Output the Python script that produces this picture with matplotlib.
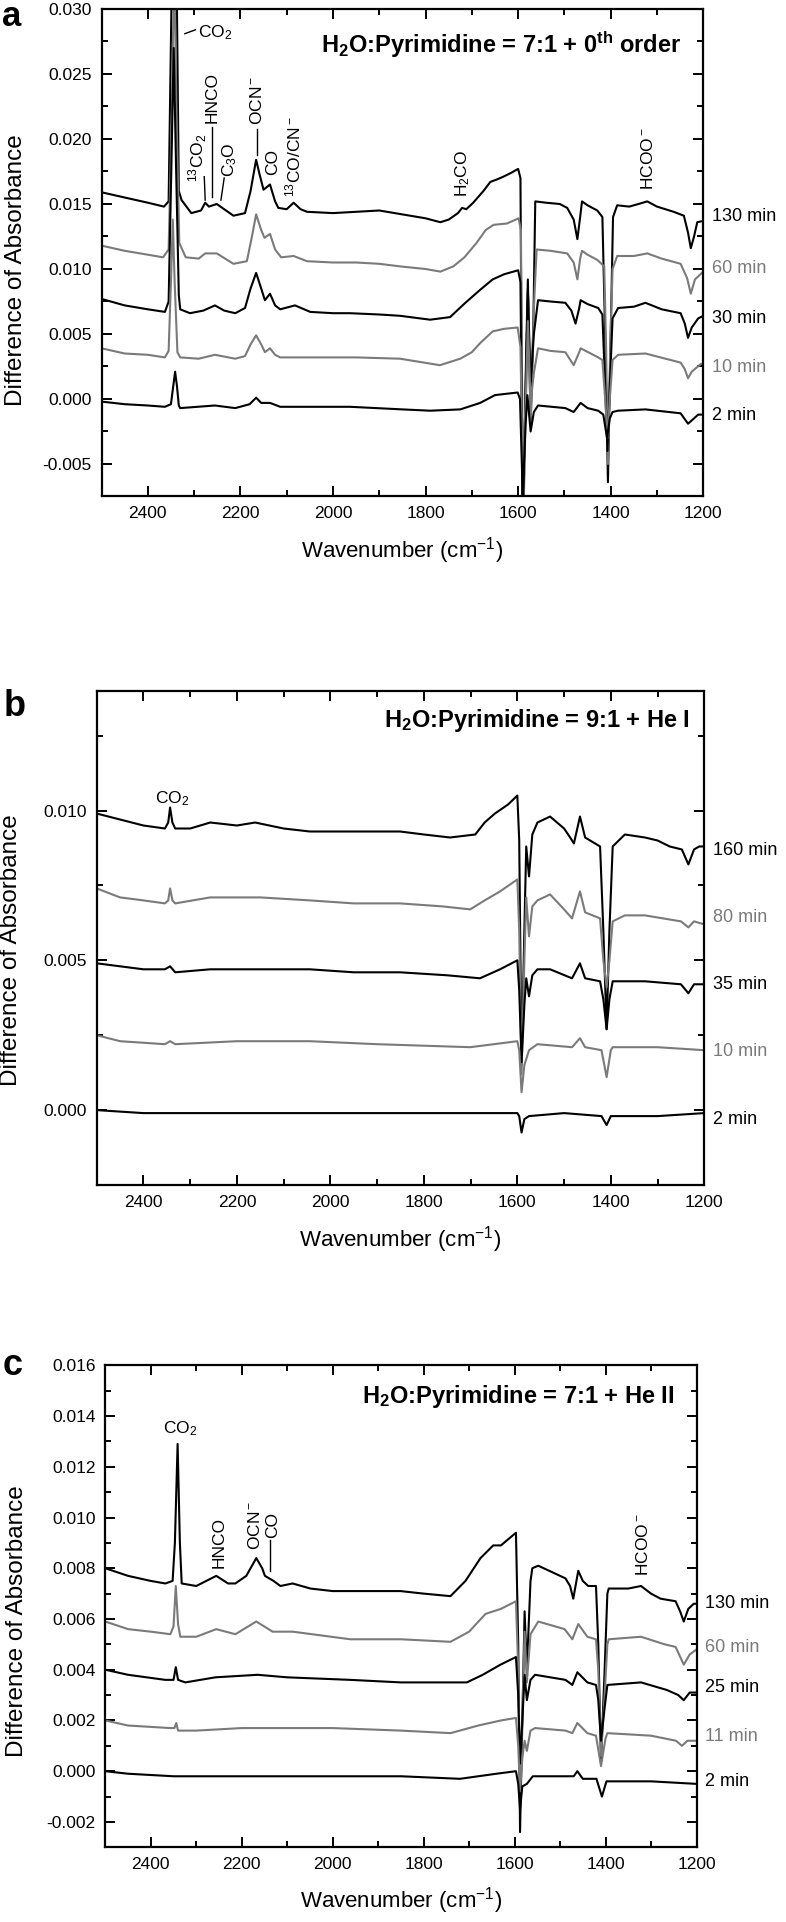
import matplotlib
matplotlib.use('Agg')
import matplotlib.pyplot as plt
from matplotlib.ticker import MultipleLocator, FormatStrFormatter

# ---- panel a : H2O:Pyrimidine = 7:1 + 0th order ----
a_labels = ['130 min', '60 min', '30 min', '10 min', '2 min']
a_label_y = [0.0140, 0.0100, 0.0062, 0.0024, -0.0013]
a_130 = [(2500, 0.0159), (2450, 0.0155), (2400, 0.0151), (2365, 0.0148), (2355, 0.0152), (2349, 0.030),
         (2343, 0.045), (2337, 0.030), (2333, 0.0160), (2327, 0.0153), (2306, 0.0143), (2285, 0.0145),
         (2276, 0.0151), (2268, 0.0148), (2251, 0.0150), (2235, 0.0146), (2215, 0.0141), (2190, 0.0143),
         (2178, 0.0160), (2166, 0.0184), (2158, 0.0172), (2150, 0.0161), (2136, 0.0165), (2125, 0.0152),
         (2118, 0.0147), (2100, 0.0146), (2085, 0.0151), (2070, 0.0146), (2056, 0.0144), (2000, 0.0143),
         (1950, 0.0144), (1900, 0.0145), (1850, 0.0142), (1800, 0.0139), (1768, 0.0136), (1750, 0.0138),
         (1730, 0.0143), (1721, 0.0147), (1712, 0.0146), (1697, 0.0151), (1675, 0.0160), (1660, 0.0167),
         (1645, 0.0169), (1632, 0.0171), (1615, 0.0174), (1600, 0.0177), (1595, 0.0170), (1590, -0.012),
         (1583, 0.003), (1579, 0.0092), (1573, -0.002), (1567, 0.006), (1563, 0.0152), (1540, 0.0151),
         (1510, 0.0150), (1494, 0.0147), (1480, 0.0138), (1472, 0.0123), (1466, 0.0140), (1462, 0.0152),
         (1450, 0.0149), (1429, 0.0145), (1418, 0.0140), (1412, 0.005), (1406, -0.0064), (1400, 0.005),
         (1395, 0.0140), (1386, 0.0149), (1360, 0.0148), (1340, 0.0150), (1321, 0.0152), (1300, 0.0148),
         (1264, 0.0144), (1242, 0.0141), (1233, 0.0128), (1227, 0.0116), (1220, 0.0125), (1213, 0.0136),
         (1200, 0.0137)]
a_60 = [(2500, 0.0118), (2450, 0.0114), (2400, 0.0111), (2367, 0.0109), (2355, 0.0115), (2348, 0.022),
        (2343, 0.034), (2338, 0.022), (2332, 0.0120), (2318, 0.0109), (2290, 0.0108), (2276, 0.0112),
        (2251, 0.0112), (2215, 0.0104), (2186, 0.0106), (2175, 0.0125), (2166, 0.0142), (2155, 0.0130),
        (2148, 0.0124), (2136, 0.0127), (2125, 0.0115), (2112, 0.0109), (2085, 0.0110), (2056, 0.0106),
        (2000, 0.0105), (1950, 0.0105), (1900, 0.0104), (1855, 0.0102), (1800, 0.0100), (1768, 0.0098),
        (1740, 0.0102), (1716, 0.0109), (1690, 0.0120), (1670, 0.0130), (1653, 0.0134), (1624, 0.0135),
        (1599, 0.0139), (1594, 0.0130), (1589, -0.010), (1582, 0.002), (1578, 0.0078), (1573, -0.002),
        (1566, 0.007), (1560, 0.0115), (1530, 0.0114), (1494, 0.0112), (1480, 0.0105), (1472, 0.0092),
        (1466, 0.0108), (1462, 0.0114), (1450, 0.0111), (1429, 0.0107), (1414, 0.0102), (1410, 0.004),
        (1406, -0.005), (1401, 0.004), (1396, 0.0100), (1386, 0.0110), (1350, 0.0110), (1321, 0.0112),
        (1290, 0.0108), (1249, 0.0104), (1235, 0.0093), (1227, 0.0081), (1218, 0.0092), (1200, 0.0098)]
a_30 = [(2500, 0.0077), (2450, 0.0072), (2400, 0.0069), (2363, 0.0067), (2355, 0.0075), (2349, 0.018),
        (2344, 0.027), (2339, 0.018), (2333, 0.0080), (2330, 0.0069), (2309, 0.0066), (2280, 0.0068),
        (2255, 0.0072), (2235, 0.0068), (2211, 0.0066), (2190, 0.0070), (2178, 0.0085), (2166, 0.0097),
        (2155, 0.0085), (2147, 0.0076), (2136, 0.0081), (2125, 0.0072), (2114, 0.0069), (2082, 0.0072),
        (2049, 0.0067), (2000, 0.0066), (1963, 0.0066), (1900, 0.0065), (1855, 0.0064), (1790, 0.0061),
        (1747, 0.0063), (1714, 0.0074), (1682, 0.0084), (1655, 0.0092), (1630, 0.0096), (1600, 0.0099),
        (1595, 0.0090), (1590, -0.009), (1583, 0.002), (1579, 0.0084), (1573, 0.0010), (1566, 0.005),
        (1557, 0.0076), (1530, 0.0075), (1498, 0.0074), (1485, 0.0068), (1476, 0.0058), (1468, 0.0070),
        (1465, 0.0076), (1450, 0.0073), (1427, 0.0070), (1418, 0.0065), (1412, 0.001), (1407, -0.004),
        (1402, 0.001), (1396, 0.0062), (1384, 0.0070), (1350, 0.0071), (1325, 0.0074), (1290, 0.0069),
        (1249, 0.0066), (1240, 0.0058), (1233, 0.0047), (1225, 0.0055), (1211, 0.0062), (1200, 0.0064)]
a_10 = [(2500, 0.0039), (2450, 0.0035), (2400, 0.0034), (2363, 0.0032), (2355, 0.0037), (2350, 0.009),
        (2346, 0.0138), (2342, 0.009), (2336, 0.0036), (2330, 0.0032), (2290, 0.0031), (2255, 0.0034),
        (2211, 0.0031), (2190, 0.0033), (2178, 0.0042), (2166, 0.0049), (2155, 0.0042), (2147, 0.0036),
        (2136, 0.0039), (2125, 0.0034), (2114, 0.0032), (2049, 0.0032), (1950, 0.0032), (1855, 0.0031),
        (1769, 0.0026), (1725, 0.0031), (1700, 0.0036), (1682, 0.0043), (1655, 0.0052), (1630, 0.0054),
        (1601, 0.0055), (1595, 0.0040), (1590, -0.006), (1583, 0.0005), (1579, 0.006), (1573, -0.0003),
        (1566, 0.002), (1557, 0.0039), (1530, 0.0037), (1498, 0.0036), (1480, 0.0026), (1468, 0.0036),
        (1465, 0.0039), (1427, 0.0032), (1418, 0.0030), (1412, 0.000), (1407, -0.003), (1402, 0.000),
        (1396, 0.0030), (1384, 0.0034), (1325, 0.0035), (1249, 0.0028), (1240, 0.0023), (1233, 0.0016),
        (1225, 0.0021), (1205, 0.0027), (1200, 0.0027)]
a_2 = [(2500, -0.0002), (2450, -0.0004), (2400, -0.0005), (2363, -0.0006), (2350, -0.0004), (2345, 0.001),
       (2341, 0.0021), (2337, 0.001), (2333, -0.0005), (2330, -0.0007), (2255, -0.0005), (2211, -0.0007),
       (2180, -0.0004), (2166, 0.0001), (2155, -0.0003), (2136, -0.0003), (2114, -0.0006), (1963, -0.0006),
       (1850, -0.0008), (1790, -0.0009), (1725, -0.0008), (1682, -0.0003), (1650, 0.0003), (1601, 0.0005),
       (1596, 0.000), (1590, -0.0074), (1584, -0.002), (1580, 0.0003), (1573, -0.0025), (1566, -0.001),
       (1557, -0.0005), (1498, -0.0007), (1480, -0.0010), (1465, -0.0003), (1450, -0.0007), (1427, -0.0009),
       (1416, -0.0012), (1408, -0.003), (1402, -0.0015), (1396, -0.0010), (1384, -0.0009), (1325, -0.0008),
       (1249, -0.0011), (1233, -0.0019), (1211, -0.0012), (1200, -0.0012)]

# ---- panel b : H2O:Pyrimidine = 9:1 + He I ----
b_labels = ['160 min', '80 min', '35 min', '10 min', '2 min']
b_label_y = [0.00867, 0.00643, 0.00418, 0.00195, -0.0003]
b_160 = [(2500, 0.0099), (2450, 0.0097), (2400, 0.0095), (2354, 0.0094), (2347, 0.0096), (2343, 0.0101),
         (2338, 0.0096), (2332, 0.0094), (2300, 0.0094), (2257, 0.0096), (2200, 0.0095), (2161, 0.0096),
         (2100, 0.0094), (2044, 0.0093), (1950, 0.0093), (1851, 0.0093), (1800, 0.0092), (1744, 0.0091),
         (1690, 0.0092), (1670, 0.0096), (1648, 0.0099), (1620, 0.0102), (1600, 0.0105), (1596, 0.0090),
         (1591, 0.0015), (1585, 0.0060), (1581, 0.0088), (1575, 0.0078), (1568, 0.0092), (1557, 0.0096),
         (1530, 0.0098), (1500, 0.0094), (1487, 0.0091), (1479, 0.0089), (1466, 0.0098), (1455, 0.0091),
         (1423, 0.0088), (1416, 0.0060), (1409, 0.0027), (1403, 0.0060), (1396, 0.0088), (1370, 0.0092),
         (1327, 0.0091), (1300, 0.0090), (1274, 0.0088), (1248, 0.0087), (1234, 0.0082), (1222, 0.0087),
         (1211, 0.0088), (1200, 0.0088)]
b_80 = [(2500, 0.0074), (2450, 0.0071), (2400, 0.0070), (2354, 0.0069), (2347, 0.0070), (2343, 0.0074),
        (2338, 0.0070), (2332, 0.0069), (2257, 0.0071), (2150, 0.0071), (2044, 0.0070), (1950, 0.0069),
        (1851, 0.0069), (1760, 0.0068), (1701, 0.0067), (1670, 0.0070), (1637, 0.0073), (1600, 0.0077),
        (1596, 0.0060), (1591, 0.0012), (1585, 0.0050), (1581, 0.0071), (1575, 0.0058), (1568, 0.0068),
        (1557, 0.0070), (1530, 0.0072), (1500, 0.0067), (1483, 0.0064), (1466, 0.0073), (1455, 0.0066),
        (1423, 0.0064), (1416, 0.0050), (1409, 0.0041), (1403, 0.0050), (1396, 0.0063), (1370, 0.0065),
        (1327, 0.0065), (1250, 0.0063), (1234, 0.0061), (1222, 0.0063), (1200, 0.0062)]
b_35 = [(2500, 0.0049), (2450, 0.0048), (2400, 0.0047), (2354, 0.0047), (2343, 0.0048), (2332, 0.0046),
        (2257, 0.0047), (2150, 0.0047), (2044, 0.0047), (1950, 0.0046), (1851, 0.0046), (1750, 0.0045),
        (1680, 0.0044), (1637, 0.0047), (1600, 0.0050), (1596, 0.0040), (1591, 0.0016), (1585, 0.0035),
        (1581, 0.0044), (1575, 0.0038), (1568, 0.0045), (1557, 0.0047), (1530, 0.0047), (1483, 0.0044),
        (1466, 0.0049), (1455, 0.0044), (1423, 0.0043), (1416, 0.0037), (1409, 0.0027), (1403, 0.0037),
        (1396, 0.0043), (1327, 0.0043), (1250, 0.0042), (1234, 0.0039), (1222, 0.0042), (1200, 0.0042)]
b_10 = [(2500, 0.0025), (2450, 0.0023), (2354, 0.0022), (2343, 0.0023), (2332, 0.0022), (2200, 0.0023),
        (2044, 0.0023), (1900, 0.0022), (1701, 0.0021), (1600, 0.0023), (1596, 0.0020), (1591, 0.0006),
        (1585, 0.0015), (1575, 0.0020), (1557, 0.0022), (1483, 0.0021), (1466, 0.0024), (1455, 0.0021),
        (1420, 0.0020), (1409, 0.0011), (1400, 0.0020), (1396, 0.0021), (1300, 0.0021), (1200, 0.0020)]
b_2 = [(2500, 0.0000), (2400, -0.0001), (2200, -0.0001), (2000, -0.0001), (1800, -0.0001), (1600, -0.0001),
       (1596, -0.0002), (1591, -0.00075), (1585, -0.0003), (1575, -0.0002), (1500, -0.0001), (1420, -0.0002),
       (1409, -0.0005), (1400, -0.0002), (1300, -0.0002), (1200, -0.0001)]

# ---- panel c : H2O:Pyrimidine = 7:1 + He II ----
c_labels = ['130 min', '60 min', '25 min', '11 min', '2 min']
c_label_y = [0.0066, 0.00486, 0.0033, 0.00135, -0.0004]
c_130 = [(2500, 0.0080), (2450, 0.0077), (2400, 0.0075), (2368, 0.0074), (2352, 0.0075), (2347, 0.0090),
         (2341, 0.0129), (2336, 0.0090), (2332, 0.0074), (2300, 0.0073), (2256, 0.0077), (2230, 0.0074),
         (2214, 0.0074), (2190, 0.0077), (2168, 0.0084), (2155, 0.0080), (2149, 0.0077), (2130, 0.0075),
         (2115, 0.0073), (2088, 0.0074), (2049, 0.0072), (2000, 0.0071), (1950, 0.0071), (1851, 0.0071),
         (1800, 0.0070), (1741, 0.0069), (1708, 0.0075), (1675, 0.0084), (1647, 0.0089), (1630, 0.0089),
         (1597, 0.0094), (1592, 0.0050), (1588, -0.0024), (1583, 0.0020), (1578, 0.0063), (1573, 0.0040),
         (1565, 0.0075), (1561, 0.0080), (1548, 0.0081), (1488, 0.0076), (1478, 0.0073), (1471, 0.0068),
         (1460, 0.0079), (1450, 0.0075), (1438, 0.0073), (1421, 0.0073), (1416, 0.0050), (1410, 0.0004),
         (1402, 0.0040), (1396, 0.0070), (1393, 0.0072), (1350, 0.0072), (1322, 0.0073), (1300, 0.0070),
         (1279, 0.0068), (1246, 0.0067), (1236, 0.0063), (1228, 0.0059), (1218, 0.0064), (1206, 0.0066),
         (1200, 0.0066)]
c_60 = [(2500, 0.0059), (2450, 0.0056), (2400, 0.0055), (2357, 0.0054), (2350, 0.0057), (2345, 0.0073),
        (2340, 0.0058), (2335, 0.0053), (2300, 0.0053), (2256, 0.0056), (2214, 0.0054), (2168, 0.0059),
        (2132, 0.0055), (2088, 0.0055), (1961, 0.0052), (1850, 0.0052), (1741, 0.0051), (1700, 0.0055),
        (1664, 0.0062), (1630, 0.0064), (1597, 0.0067), (1592, 0.0040), (1588, -0.0005), (1583, 0.0020),
        (1578, 0.0055), (1573, 0.0035), (1565, 0.0054), (1548, 0.0059), (1490, 0.0056), (1473, 0.0052),
        (1460, 0.0058), (1440, 0.0053), (1421, 0.0052), (1416, 0.0040), (1410, 0.0006), (1402, 0.0030),
        (1396, 0.0050), (1393, 0.0052), (1322, 0.0053), (1270, 0.0050), (1246, 0.0049), (1228, 0.0042),
        (1215, 0.0046), (1200, 0.0048)]
c_25 = [(2500, 0.0040), (2450, 0.0038), (2368, 0.0036), (2350, 0.0036), (2345, 0.0041), (2340, 0.0036),
        (2324, 0.0035), (2258, 0.0037), (2165, 0.0038), (2100, 0.0037), (1961, 0.0036), (1850, 0.0035),
        (1705, 0.0035), (1670, 0.0038), (1631, 0.0042), (1597, 0.0045), (1592, 0.0030), (1588, 0.0003),
        (1583, 0.0020), (1578, 0.0038), (1573, 0.0028), (1565, 0.0036), (1555, 0.0038), (1488, 0.0036),
        (1473, 0.0034), (1462, 0.0039), (1440, 0.0035), (1421, 0.0034), (1416, 0.0028), (1410, 0.0012),
        (1402, 0.0025), (1396, 0.0034), (1322, 0.0035), (1265, 0.0032), (1240, 0.0030), (1228, 0.0028),
        (1215, 0.0031), (1200, 0.0031)]
c_11 = [(2500, 0.0020), (2450, 0.0018), (2357, 0.0017), (2348, 0.0017), (2344, 0.0019), (2340, 0.0016),
        (2300, 0.0016), (2200, 0.0017), (2000, 0.0017), (1850, 0.0016), (1741, 0.0015), (1680, 0.0018),
        (1630, 0.0020), (1597, 0.0021), (1592, 0.0010), (1588, -0.0008), (1583, 0.0005), (1578, 0.0012),
        (1573, 0.0008), (1565, 0.0016), (1555, 0.0017), (1488, 0.0016), (1473, 0.0015), (1462, 0.0019),
        (1440, 0.0015), (1421, 0.0014), (1410, 0.0002), (1400, 0.0013), (1396, 0.0015), (1300, 0.0014),
        (1245, 0.0012), (1232, 0.0010), (1220, 0.0012), (1200, 0.0012)]
c_2 = [(2500, 0.0000), (2450, -0.0001), (2350, -0.0002), (2200, -0.0002), (2000, -0.0002), (1850, -0.0002),
       (1720, -0.0003), (1640, -0.0001), (1597, 0.0000), (1592, -0.0005), (1588, -0.0015), (1583, -0.0006),
       (1573, -0.0005), (1560, -0.0002), (1500, -0.0002), (1470, -0.0002), (1462, 0.0000), (1450, -0.0003),
       (1420, -0.0003), (1408, -0.0010), (1398, -0.0004), (1300, -0.0004), (1200, -0.0005)]

BLACK = '#000000'
GRAY = '#7a7a7a'
line_colors = [BLACK, GRAY, BLACK, GRAY, BLACK]

W, H = 786, 1922

plt.rcParams['font.family'] = ['Liberation Sans', 'DejaVu Sans']
plt.rcParams['mathtext.fontset'] = 'custom'
plt.rcParams['mathtext.rm'] = 'Liberation Sans'
plt.rcParams['mathtext.bf'] = 'Liberation Sans:bold'
plt.rcParams['mathtext.it'] = 'Liberation Sans:italic'
plt.rcParams['mathtext.default'] = 'regular'
plt.rcParams['axes.unicode_minus'] = False


def add_axes_px(fig, left, top, right, bottom):
    return fig.add_axes([left / W, 1 - bottom / H, (right - left) / W, (bottom - top) / H])


def draw_panel(ax, curves, labels, label_y, ylim, ymajor, title, title_xy):
    for pts, col in zip(curves, line_colors):
        wn = [p[0] for p in pts]
        ab = [p[1] for p in pts]
        ax.plot(wn, ab, color=col, lw=1.5)
    for lab, y, col in zip(labels, label_y, line_colors):
        ax.annotate(lab, xy=(1, y), xycoords=ax.get_yaxis_transform(), xytext=(6, 0),
                    textcoords='offset points', va='center', ha='left', color=col, fontsize=13,
                    annotation_clip=False)
    ax.set_xlim(2500, 1200)
    ax.set_ylim(*ylim)
    ax.xaxis.set_major_locator(MultipleLocator(200))
    ax.xaxis.set_minor_locator(MultipleLocator(100))
    ax.yaxis.set_major_locator(MultipleLocator(ymajor))
    ax.yaxis.set_minor_locator(MultipleLocator(ymajor / 2))
    ax.yaxis.set_major_formatter(FormatStrFormatter('%.3f'))
    ax.tick_params(which='both', direction='in', top=True, right=True, width=1.4, labelsize=12.5, pad=7)
    ax.tick_params(which='major', length=7)
    ax.tick_params(which='minor', length=4)
    for s in ax.spines.values():
        s.set_linewidth(1.6)
    ax.set_xlabel('Wavenumber (cm$^{-1}$)', fontsize=16, va='center')
    ax.xaxis.set_label_coords(0.5, -0.11)
    ax.text(title_xy[0], title_xy[1], title, transform=ax.transAxes, ha='right', va='baseline',
            fontsize=17, fontweight='bold')


def main():
    fig = plt.figure(figsize=(W / 100, H / 100), dpi=100)

    # panel a
    ax = add_axes_px(fig, 101.5, 9, 703.3, 496.5)
    draw_panel(ax, [a_130, a_60, a_30, a_10, a_2], a_labels, a_label_y, (-0.0075, 0.030), 0.005,
               r'H$_\mathbf{2}$O:Pyrimidine = 7:1 + 0$^\mathbf{th}$ order', (0.964, 0.909))
    ax.plot([2320, 2297], [0.0281, 0.0284], color=BLACK, lw=1)
    ax.text(2292, 0.0282, 'CO$_2$', fontsize=12.5, ha='left', va='center')
    rot_a = [(2293, 0.0167, '$^{13}$CO$_2$'), (2261, 0.0212, 'HNCO'), (2224, 0.0171, 'C$_3$O'),
             (2164, 0.0211, 'OCN$^-$'), (2131, 0.0172, 'CO'), (2086, 0.0155, '$^{13}$CO/CN$^-$'),
             (1720, 0.0155, 'H$_2$CO'), (1320, 0.0161, 'HCOO$^-$')]
    for x, y, t in rot_a:
        ax.text(x, y, t, rotation=90, ha='center', va='bottom', fontsize=12.5)
    ax.plot([2278, 2276], [0.0171, 0.0153], color=BLACK, lw=1)
    ax.plot([2261, 2261], [0.0209, 0.0155], color=BLACK, lw=1)
    ax.plot([2235, 2242], [0.0170, 0.0153], color=BLACK, lw=1)
    ax.plot([2164, 2164], [0.0208, 0.0188], color=BLACK, lw=1)
    fig.text(16 / W, 1 - 270 / H, 'Difference of Absorbance', rotation=90, ha='center', va='center',
             fontsize=17.5)
    fig.text(12 / W, 1 - 0.5 / H, 'a', fontsize=25, fontweight='bold', ha='center', va='top')

    # panel b
    ax = add_axes_px(fig, 96.7, 690.7, 704.3, 1185)
    draw_panel(ax, [b_160, b_80, b_35, b_10, b_2], b_labels, b_label_y, (-0.0025, 0.014), 0.005,
               r'H$_\mathbf{2}$O:Pyrimidine = 9:1 + He I', (0.9765, 0.927))
    ax.text(2339, 0.0104, 'CO$_2$', fontsize=12.5, ha='center', va='center')
    fig.text(11 / W, 1 - 950 / H, 'Difference of Absorbance', rotation=90, ha='center', va='center',
             fontsize=17.5)
    fig.text(15 / W, 1 - 716 / H, 'b', fontsize=26, fontweight='bold', ha='center', va='baseline')

    # panel c
    ax = add_axes_px(fig, 105.3, 1365.3, 696.5, 1847.3)
    draw_panel(ax, [c_130, c_60, c_25, c_11, c_2], c_labels, c_label_y, (-0.003, 0.016), 0.002,
               r'H$_\mathbf{2}$O:Pyrimidine = 7:1 + He II', (0.9636, 0.921))
    ax.text(2335, 0.0135, 'CO$_2$', fontsize=12.5, ha='center', va='center')
    rot_c = [(2250, 0.0080, 'HNCO'), (2170, 0.0087, 'OCN$^-$'), (2132, 0.0092, 'CO'), (1317, 0.0077, 'HCOO$^-$')]
    for x, y, t in rot_c:
        ax.text(x, y, t, rotation=90, ha='center', va='bottom', fontsize=12.5)
    ax.plot([2137, 2137], [0.0091, 0.0079], color=BLACK, lw=1)
    fig.text(17 / W, 1 - 1621 / H, 'Difference of Absorbance', rotation=90, ha='center', va='center',
             fontsize=17.5)
    fig.text(13 / W, 1 - 1375 / H, 'c', fontsize=26, fontweight='bold', ha='center', va='baseline')

    fig.savefig('out.png', dpi=100)


main()
